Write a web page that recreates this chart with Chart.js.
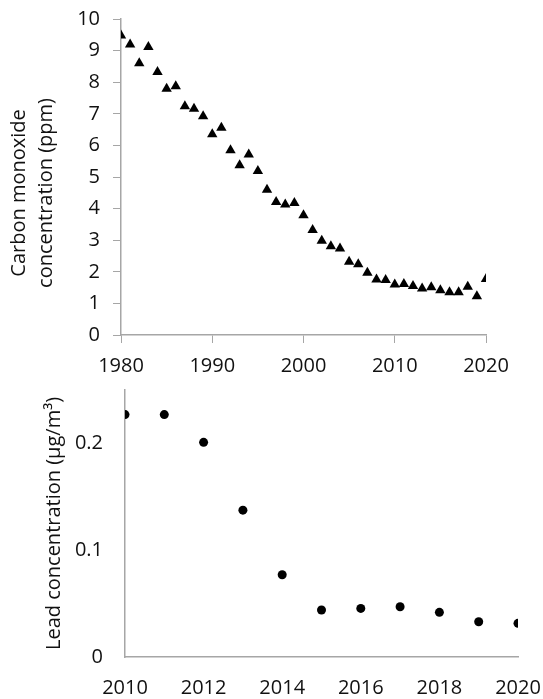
<!DOCTYPE html>
<html>
<head>
<meta charset="utf-8">
<script src="https://cdn.jsdelivr.net/npm/chart.js@4"></script>
<style>
  body { margin: 0; background: #fff; }
  .box { position: absolute; left: 0; width: 543px; }
  #top { top: 0; height: 375px; }
  #bottom { top: 375px; height: 324px; }
</style>
</head>
<body>
<div class="box" id="top"><canvas id="coChart" width="543" height="375"></canvas></div>
<div class="box" id="bottom"><canvas id="leadChart" width="543" height="324"></canvas></div>
<script>
// Carbon monoxide, 1980-2020 (ppm)
const coYears = [1980, 1981, 1982, 1983, 1984, 1985, 1986, 1987, 1988, 1989,
  1990, 1991, 1992, 1993, 1994, 1995, 1996, 1997, 1998, 1999,
  2000, 2001, 2002, 2003, 2004, 2005, 2006, 2007, 2008, 2009,
  2010, 2011, 2012, 2013, 2014, 2015, 2016, 2017, 2018, 2019, 2020];
const coValues = [9.48, 9.19, 8.6, 9.11, 8.32, 7.79, 7.87, 7.24, 7.16, 6.92,
  6.35, 6.56, 5.85, 5.37, 5.71, 5.19, 4.6, 4.21, 4.13, 4.18,
  3.79, 3.32, 2.98, 2.81, 2.74, 2.32, 2.24, 1.97, 1.76, 1.74,
  1.6, 1.61, 1.55, 1.47, 1.51, 1.42, 1.35, 1.35, 1.53, 1.23, 1.77];
const coTitle = ['Carbon monoxide', 'concentration (ppm)'];

// Lead, 2010-2020 (µg/m³)
const leadYears = [2010, 2011, 2012, 2013, 2014, 2015, 2016, 2017, 2018, 2019, 2020];
const leadValues = [0.227, 0.227, 0.201, 0.1375, 0.077, 0.044, 0.0455, 0.047, 0.0418, 0.033, 0.0315];
const leadTitle = 'Lead concentration (µg/m³)';
const leadTicks = [0, 0.1, 0.2];

const font = { family: 'Open Sans', size: 20 };
const axisColor = '#a6a6a6';
const textColor = '#111';

Chart.defaults.font.family = 'Open Sans';
Chart.defaults.color = textColor;

function points(xs, ys) {
  return xs.map((x, i) => ({ x: x, y: ys[i] }));
}

// tick padding also adds to the scales' outer padding, drop it
function fixY(width) {
  return s => { s.width = width; s.paddingTop = 0; };
}
function fixX(height) {
  return s => { s.height = height; s.paddingLeft = 0; s.paddingRight = 0; };
}

// the CO axis title sits a bit below the middle of the axis in the original,
// which the scale title can't do, so draw it here
const sideTitle = {
  id: 'sideTitle',
  afterDraw(chart, args, opts) {
    const ctx = chart.ctx;
    const cy = (chart.chartArea.top + chart.chartArea.bottom) / 2 + opts.shift;
    ctx.save();
    ctx.font = '20px "Open Sans"';
    ctx.fillStyle = textColor;
    ctx.textAlign = 'center';
    ctx.textBaseline = 'middle';
    opts.lines.forEach((line, i) => {
      ctx.save();
      ctx.translate(opts.x + i * opts.lineHeight, cy);
      ctx.rotate(-Math.PI / 2);
      ctx.fillText(line, 0, 0);
      ctx.restore();
    });
    ctx.restore();
  }
};

new Chart(document.getElementById('coChart'), {
  type: 'scatter',
  data: {
    datasets: [{
      data: points(coYears, coValues),
      pointStyle: 'triangle',
      pointRadius: 6,
      pointHoverRadius: 6,
      backgroundColor: '#000',
      borderColor: '#000',
      borderWidth: 0
    }]
  },
  options: {
    responsive: false,
    animation: false,
    layout: { padding: { left: 0, right: 57, top: 19, bottom: 0 } },
    plugins: {
      legend: { display: false },
      tooltip: { enabled: false },
      sideTitle: { lines: coTitle, x: 19, lineHeight: 27, shift: 16 }
    },
    scales: {
      x: {
        type: 'linear',
        min: 1980,
        max: 2020,
        afterFit: fixX(40),
        ticks: { stepSize: 10, font: font, color: textColor, padding: 11, maxRotation: 0,
          callback: v => String(v) },
        grid: { drawOnChartArea: false, drawTicks: true, tickLength: 8, color: axisColor },
        border: { color: axisColor, width: 1.5 }
      },
      y: {
        min: 0,
        max: 10,
        afterFit: fixY(121),
        ticks: { stepSize: 1, font: font, color: textColor, padding: 13 },
        grid: { drawOnChartArea: false, drawTicks: true, tickLength: 8, color: axisColor },
        border: { color: axisColor, width: 1.5 }
      }
    }
  },
  plugins: [sideTitle]
});

new Chart(document.getElementById('leadChart'), {
  type: 'scatter',
  data: {
    datasets: [{
      data: points(leadYears, leadValues),
      pointStyle: 'circle',
      pointRadius: 4.5,
      pointHoverRadius: 4.5,
      backgroundColor: '#000',
      borderColor: '#000',
      borderWidth: 0
    }]
  },
  options: {
    responsive: false,
    animation: false,
    layout: { padding: { left: 0, right: 25, top: 15, bottom: 0 } },
    plugins: { legend: { display: false }, tooltip: { enabled: false } },
    scales: {
      x: {
        type: 'linear',
        min: 2010,
        max: 2020,
        afterFit: fixX(42),
        ticks: { stepSize: 2, font: font, color: textColor, padding: 11, maxRotation: 0,
          callback: v => String(v) },
        grid: { display: false },
        border: { color: axisColor, width: 1.5 }
      },
      y: {
        min: 0,
        max: 0.25,
        afterFit: fixY(125),
        afterBuildTicks: s => { s.ticks = leadTicks.map(v => ({ value: v })); },
        ticks: { font: font, color: textColor, padding: 14, callback: v => String(v) },
        grid: { display: false },
        border: { color: axisColor, width: 1.5 },
        title: { display: true, text: leadTitle, font: font, color: textColor, padding: { top: 42, bottom: 0 } }
      }
    }
  }
});
</script>
</body>
</html>
